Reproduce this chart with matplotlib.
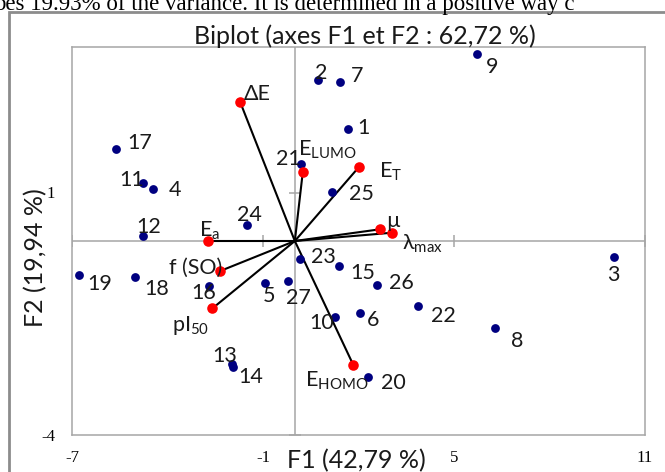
import matplotlib
matplotlib.use("Agg")
import matplotlib.pyplot as plt
from matplotlib.patches import Rectangle

plt.rcParams["font.family"] = ["Lato", "DejaVu Sans"]
plt.rcParams["mathtext.fontset"] = "custom"
plt.rcParams["mathtext.rm"] = "Lato"
plt.rcParams["mathtext.it"] = "Lato:italic"
plt.rcParams["mathtext.bf"] = "Lato:bold"

# observations (blue)
obs_names = [str(i) for i in range(1, 28)]
obs_f1 = [1.66, 0.74, 10.04, -4.46, -0.94, 2.05, 1.42, 6.29, 5.72, 1.26,
          -4.78, -4.76, -1.98, -1.93, 1.40, -2.69, -5.62, -5.03, -6.78, 2.29,
          0.18, 3.88, 0.16, -1.51, 1.16, 2.59, -0.22]
obs_f2 = [2.30, 3.32, -0.32, 1.07, -0.87, -1.49, 3.27, -1.80, 3.86, -1.56,
          1.20, 0.10, -2.53, -2.60, -0.51, -0.93, 1.90, -0.74, -0.70, -2.80,
          1.59, -1.34, -0.37, 0.32, 1.02, -0.91, -0.82]

# variables (red)
var_names = ["\u0394E", r"E$_\mathrm{LUMO}$", r"E$_\mathrm{T}$", "\u00b5",
             "\u03bb$_\\mathrm{max}$", r"E$_\mathrm{a}$", "f (SO)",
             r"pI$_\mathrm{50}$", r"E$_\mathrm{HOMO}$"]
var_f1 = [-1.72, 0.25, 2.02, 2.66, 3.04, -2.74, -2.35, -2.59, 1.84]
var_f2 = [2.87, 1.42, 1.53, 0.24, 0.17, 0.00, -0.62, -1.39, -2.56]

x_ticks = [-7, -1, 5, 11]
y_ticks = [-4, 1]

# label offsets in pixels (right, down)
obs_off = [(16, -1), (3, -7), (-1, 18), (22, 1), (4, 13), (13, 7), (17, -6),
           (22, 13), (15, 13), (-13, 6), (-11, -3), (5, -9), (-7, -8), (17, 10),
           (23, 7), (-6, 7), (24, -6), (22, 12), (21, 9), (26, 6), (-12, -5),
           (25, 10), (24, -2), (3, -10), (30, 2), (24, -2), (11, 17)]
var_off = [(17, -8), (25, -22), (31, 5), (14, -8), (31, 11), (2, -10),
           (-24, -3), (-22, 17), (-17, 16)]

W, H = 665, 472
fig = plt.figure(figsize=(W / 100, H / 100), dpi=100)
ax = fig.add_axes([72 / W, (H - 435) / H, (645 - 72) / W, (435 - 47) / H])

grey = "#a6a6a6"
ax.set_xlim(-7, 11)
ax.set_ylim(-4, 4)
for s in ax.spines.values():
    s.set_color(grey)
    s.set_linewidth(1.1)
ax.axhline(0, color=grey, lw=1.1, zorder=1)
ax.axvline(0, color=grey, lw=1.1, zorder=1)
ax.plot(x_ticks, [0] * len(x_ticks), ls="none", marker="|", ms=8, mew=1.1, color=grey, zorder=1)
ax.plot([0] * len(y_ticks), y_ticks, ls="none", marker="_", ms=8, mew=1.1, color=grey, zorder=1)

ax.set_xticks(x_ticks)
ax.set_yticks(y_ticks)
ax.set_xticklabels([str(v) for v in x_ticks], family="Liberation Serif", fontsize=12)
ax.set_yticklabels([str(v) for v in y_ticks], family="Liberation Serif", fontsize=12)
ax.tick_params(axis="x", length=0, pad=11)
ax.tick_params(axis="y", length=0, pad=12)

for x, y in zip(var_f1, var_f2):
    ax.plot([0, x], [0, y], color="black", lw=1.5, zorder=2)

ax.scatter(obs_f1, obs_f2, s=40, color="#000080", zorder=3, linewidths=0)
ax.scatter(var_f1, var_f2, s=58, color="#ff0000", zorder=3, linewidths=0)

k = 72 / 100
for name, x, y, (dx, dy) in zip(obs_names, obs_f1, obs_f2, obs_off):
    ax.annotate(name, (x, y), xytext=(dx * k, -dy * k), textcoords="offset points",
                ha="center", va="center", fontsize=15.5, color="#1a1a1a", zorder=4)
for name, x, y, (dx, dy) in zip(var_names, var_f1, var_f2, var_off):
    ax.annotate(name, (x, y), xytext=(dx * k, -dy * k), textcoords="offset points",
                ha="center", va="center", fontsize=15.5, color="#1a1a1a", zorder=4)

fig.text(364.5 / W, 1 - 36 / H, "Biplot (axes F1 et F2 : 62,72 %)",
         ha="center", va="center", fontsize=18, color="#1a1a1a")
fig.text(356 / W, 1 - 461 / H, "F1 (42,79 %)", ha="center", va="center",
         fontsize=18, color="#1a1a1a")
fig.text(36 / W, 1 - 258 / H, "F2 (19,94 %)", ha="center", va="center",
         rotation=90, fontsize=18, color="#1a1a1a")

# outer chart frame and cropped page text
fig.add_artist(Rectangle((9 / W, -0.1), 1.2, 1.1 - 12 / H, transform=fig.transFigure,
                         fill=False, edgecolor="#8c8c8c", linewidth=2))
fig.text(-6 / W, 1 - 10 / H, "bes 19.93% of the variance. It is determined in a positive way c",
         ha="left", va="baseline", family="Liberation Serif", fontsize=16.5, color="black")

fig.savefig("out.png", dpi=100)
